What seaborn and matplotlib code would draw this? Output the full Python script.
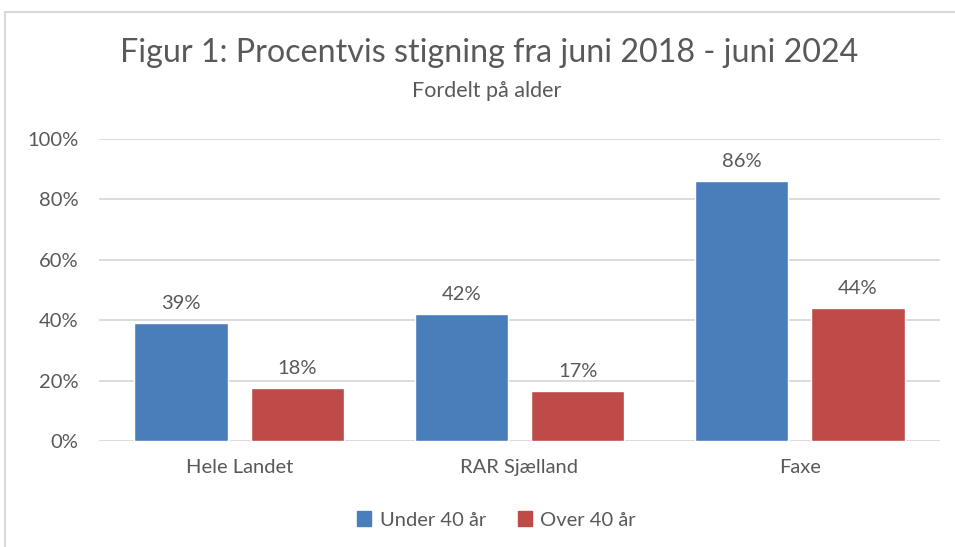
import matplotlib.pyplot as plt
import matplotlib.patches as mpatches
import seaborn as sns
import pandas as pd

# data
regions = ['Hele Landet', 'RAR Sjælland', 'Faxe']
groups = ['Under 40 år', 'Over 40 år']
under_40 = [0.39, 0.42, 0.86]
over_40 = [0.176, 0.166, 0.44]
y_ticks = [0, 0.2, 0.4, 0.6, 0.8, 1.0]

colors = ['#4a7ebb', '#be4b48']
txt = '#595959'
fs = 14.5

df = pd.DataFrame({
	'region': regions * 2,
	'gruppe': [groups[0]] * 3 + [groups[1]] * 3,
	'værdi': under_40 + over_40,
})

sns.set_style('white')
plt.rcParams['font.family'] = ['Lato', 'DejaVu Sans']

fig = plt.figure(figsize=(9.55, 5.47), dpi=100)
ax = fig.add_axes([99 / 955, 1 - 441 / 547, 841 / 955, 302 / 547])

sns.barplot(data=df, x='region', y='værdi', hue='gruppe', palette=colors,
	width=0.83, gap=0.2, saturation=1, ax=ax, legend=False)

ax.set_ylim(0, 1.0)
ax.set_xlim(-0.5, 2.5)
ax.set_yticks(y_ticks)
ax.set_yticklabels([f'{int(round(t * 100))}%' for t in y_ticks])
ax.yaxis.grid(True, color='#d9d9d9', linewidth=1.3)
ax.set_axisbelow(True)
for s in ax.spines.values():
	s.set_visible(False)
ax.tick_params(axis='both', length=0, labelsize=fs, labelcolor=txt)
ax.tick_params(axis='y', pad=15)
ax.tick_params(axis='x', pad=13)
ax.set_xlabel('')
ax.set_ylabel('')

for cont in ax.containers:
	ax.bar_label(cont, labels=[f'{v * 100:.0f}%' for v in cont.datavalues],
		padding=8, fontsize=fs, color=txt)

fig.text(489 / 955, 1 - 53 / 547, 'Figur 1: Procentvis stigning fra juni 2018 - juni 2024',
	ha='center', va='center', fontsize=23.2, color=txt)
fig.text(487 / 955, 1 - 91 / 547, 'Fordelt på alder', ha='center', va='center',
	fontsize=15.5, color=txt)

handles = [mpatches.Patch(color=c, label=g) for c, g in zip(colors, groups)]
fig.legend(handles=handles, loc='center', bbox_to_anchor=(0.52, 1 - 520 / 547),
	ncol=2, frameon=False, fontsize=fs, labelcolor=txt, handlelength=0.7,
	handleheight=0.7, handletextpad=0.4, columnspacing=1.6)

# outer chart frame (cropped on the right and bottom)
fig.patches.append(mpatches.Rectangle((5 / 955, -0.1), 1.2, 1.1 - 12 / 547,
	transform=fig.transFigure, fill=False, edgecolor='#d9d9d9', linewidth=1.5))

fig.savefig('out.png', dpi=100)
